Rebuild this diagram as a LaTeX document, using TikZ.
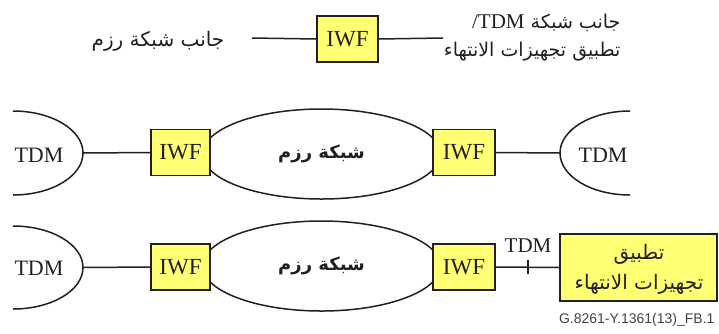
\documentclass[tikz,border=0pt]{standalone}
\usepackage{fontspec}
\setmainfont{Liberation Serif}
\newfontfamily\arabicfont[Script=Arabic]{DejaVu Sans}
\newfontfamily\capfont{Liberation Sans}
\TeXXeTstate=1
\usetikzlibrary{shapes.geometric}

\definecolor{ink}{HTML}{231F20}
\definecolor{iwfyellow}{HTML}{FFFF73}

\newcommand{\ar}[1]{{\arabicfont\beginR #1\endR}}

\tikzset{
  link/.style={draw=ink, line width=1.5pt},
  iwfbox/.style={draw=ink, fill=iwfyellow, line width=1.6pt, inner sep=0pt,
    minimum height=46, text=ink, font=\fontsize{23}{26}\selectfont},
  appbox/.style={draw=ink, fill=iwfyellow, line width=1.6pt, inner sep=0pt,
    text=ink, align=center, font=\fontsize{20}{30}\selectfont},
  cloud/.style={draw=ink, ellipse, line width=1.5pt, inner sep=0pt,
    minimum width=238, minimum height=90, text=ink,
    font=\fontsize{18}{20}\selectfont\bfseries},
  tdmlabel/.style={text=ink, font=\fontsize{22}{24}\selectfont},
  artext/.style={text=ink, font=\fontsize{20}{28}\selectfont},
  caption/.style={text=ink!85, font=\capfont\fontsize{14}{16}\selectfont}
}

\begin{document}
\begin{tikzpicture}[x=1pt, y=-1pt]
\useasboundingbox (0,0) rectangle (719,333);

% ---- legend row
\node[artext] (pktside) at (158,41) {\ar{جانب شبكة رزم}};
\node[iwfbox, minimum width=61] (iwf0) at (347.5,39) {IWF};
\coordinate (legL) at (252,38);
\coordinate (legR) at (443,38);
\draw[link] (legL) -- (iwf0.west);
\draw[link] (iwf0.east) -- (legR);
\node[artext, font=\fontsize{19}{28}\selectfont, align=right, anchor=east] (tdmside) at (624,38)
  {\ar{جانب شبكة \beginL{\rmfamily\fontsize{21}{28}\selectfont TDM}\endL{\rmfamily\fontsize{21}{28}\selectfont/}}\\
   \ar{تطبيق تجهيزات الانتهاء}};

% ---- first scenario: TDM - IWF - packet network - IWF - TDM
\draw[link] (13,111) arc[start angle=-90, end angle=90, x radius=70, y radius=42];
\coordinate (tdmA) at (83,153);
\node[tdmlabel] (tdmAtxt) at (39,155) {TDM};
\node[cloud] (netA) at (321.5,154) {\ar{شبكة رزم}};
\node[iwfbox, minimum width=59] (iwfA1) at (180.5,152.5) {IWF};
\node[iwfbox, minimum width=62] (iwfA2) at (464,152.5) {IWF};
\draw[link] (630,111) arc[start angle=270, end angle=90, x radius=70, y radius=42];
\coordinate (tdmB) at (560,153);
\node[tdmlabel] (tdmBtxt) at (603,155) {TDM};
\draw[link] (tdmA) -- (iwfA1.west);
\draw[link] (iwfA2.east) -- (tdmB);

% ---- second scenario: TDM - IWF - packet network - IWF - end equipment
\draw[link] (13,226) arc[start angle=-90, end angle=90, x radius=70, y radius=41.5];
\coordinate (tdmC) at (83,267.5);
\node[tdmlabel] (tdmCtxt) at (39,268) {TDM};
\node[cloud] (netB) at (321.5,266) {\ar{شبكة رزم}};
\node[iwfbox, minimum width=59] (iwfB1) at (180.5,267) {IWF};
\node[iwfbox, minimum width=62] (iwfB2) at (464,267) {IWF};
\node[appbox, minimum width=157, minimum height=67] (app) at (638.5,267.5) {};
\node[text=ink, align=center, font=\fontsize{20}{30}\selectfont] (apptxt) at (639,269)
  {\ar{تطبيق}\\ \ar{تجهيزات الانتهاء}};
\draw[link] (tdmC) -- (iwfB1.west);
\draw[link] (iwfB2.east) -- (app.west);
\coordinate (tick) at (528,267);
\draw[link] ([yshift=-7pt]tick) -- ([yshift=7pt]tick);
\node[tdmlabel, font=\fontsize{21}{24}\selectfont] (tdmDtxt) at (528,246) {TDM};

\node[caption, anchor=east] (figid) at (718,320) {G.8261-Y.1361(13)\_FB.1};
\end{tikzpicture}
\end{document}
